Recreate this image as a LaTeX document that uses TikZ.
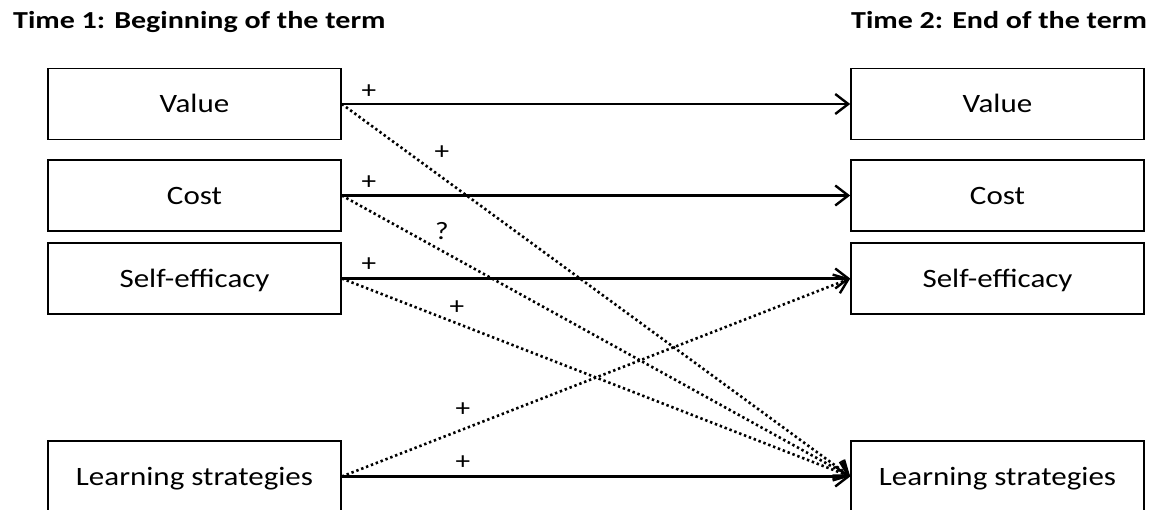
\documentclass[tikz,border=0pt]{standalone}
\usepackage{fontspec}
\setmainfont{Carlito}
\newfontfamily\widefont[FakeStretch=1.17]{Carlito}
\newfontfamily\wideheadfont[FakeStretch=1.23]{Carlito}
\usetikzlibrary{arrows.meta}
\begin{document}
\begin{tikzpicture}[x=1pt,y=-1pt,
  box/.style={draw=black, line width=1.6pt, minimum width=293pt, minimum height=71pt, inner sep=0pt, text height=18pt, text depth=0pt, font=\widefont\fontsize{26.5}{30}\selectfont},
  hdr/.style={anchor=base west, inner sep=0pt, font=\wideheadfont\fontsize{24.4}{27}\selectfont\bfseries},
  sgn/.style={inner sep=0pt, font=\widefont\fontsize{25}{27}\selectfont},
  tip/.style={-{Straight Barb[length=13pt,width=20pt,line width=2.4pt]}},
  solidarrow/.style={tip, line width=2.7pt},
  dotarrow/.style={tip, line width=2.6pt, dash pattern=on 2.4pt off 2.8pt}]
\useasboundingbox (0,0) rectangle (1171,510);
\clip (0,0) rectangle (1171,510);
\node[hdr] (h1) at (13,29) {Time 1: Beginning of the term};
\node[hdr] (h2) at (851,29) {Time 2: End of the term};
\node[box] (v1) at (194.5,104) {Value};
\node[box] (c1) at (194.5,195.5) {Cost};
\node[box] (s1) at (194.5,278.5) {Self-efficacy};
\node[box] (l1) at (194.5,476.5) {Learning strategies};
\node[box] (v2) at (997.5,104) {Value};
\node[box] (c2) at (997.5,195.5) {Cost};
\node[box] (s2) at (997.5,278.5) {Self-efficacy};
\node[box] (l2) at (997.5,476.5) {Learning strategies};
\draw[dotarrow] (v1.east) -- (l2.west);
\draw[dotarrow] (c1.east) -- (l2.west);
\draw[dotarrow] (s1.east) -- (l2.west);
\draw[dotarrow] (l1.east) -- (s2.west);
\draw[solidarrow] (v1.east) -- (v2.west);
\draw[solidarrow] (c1.east) -- (c2.west);
\draw[solidarrow] (s1.east) -- (s2.west);
\draw[solidarrow] (l1.east) -- (l2.west);
\node[sgn] (p1) at (369,92) {+};
\node[sgn] (p2) at (442,153) {+};
\node[sgn] (p3) at (369,183) {+};
\node[sgn] (q1) at (442,231) {?};
\node[sgn] (p4) at (369,265) {+};
\node[sgn] (p5) at (457,308) {+};
\node[sgn] (p6) at (463,410) {+};
\node[sgn] (p7) at (463,463) {+};
\end{tikzpicture}
\end{document}
